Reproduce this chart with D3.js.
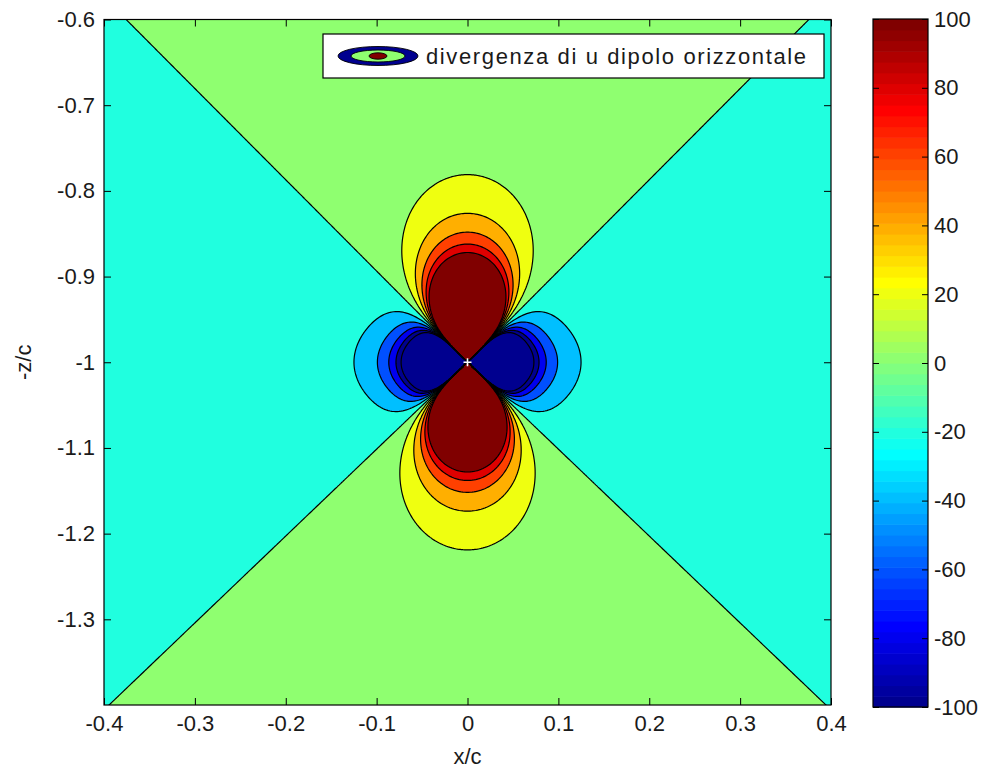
<!DOCTYPE html>
<html><head><meta charset="utf-8">
<script src="https://cdn.jsdelivr.net/npm/d3@7"></script>
<style>
body{margin:0;background:#fff;}
svg text{font-family:"Liberation Sans",Arial,sans-serif;fill:#1a1a1a;}
</style></head><body>
<svg id="chart" width="984" height="776"></svg>
<script>
// ---------- data ----------
const xTicks = [-0.4, -0.3, -0.2, -0.1, 0, 0.1, 0.2, 0.3, 0.4];
const yTicks = [-0.6, -0.7, -0.8, -0.9, -1, -1.1, -1.2, -1.3];
const contourLevels = [-100, -80, -60, -40, -20, 0, 20, 40, 60, 80, 100];
const colorbarTicks = [-100, -80, -60, -40, -20, 0, 20, 40, 60, 80, 100];
const colorRange = [-100, 100];
const xDomain = [-0.4, 0.4];
const zDomain = [-1.4, -0.6];
const dipoleCenter = [0, -1];
// f·r^3: along the vertical axis, along the horizontal axis
const lobeStrength = [0.21, -0.039];
// angle of the zero contour from the horizontal (deg): upper half, lower half
const zeroLineAngle = [46.8, 45.4];
const legendLabel = "divergenza di u dipolo orizzontale";
const xLabel = "x/c";
const yLabel = "-z/c";

// ---------- layout ----------
const svg = d3.select("#chart");
const L = 104, R = 831, T = 19.5, B = 705;
const xScale = d3.scaleLinear().domain(xDomain).range([L, R]);
const yScale = d3.scaleLinear().domain(zDomain).range([B, T]);

// MATLAB jet(64)
function jetRow(i) { // 1-based
  let r, g, b;
  r = i <= 24 ? 0 : i <= 40 ? (i - 24) / 16 : i <= 56 ? 1 : 1 - (i - 56) / 16;
  g = i <= 8 ? 0 : i <= 24 ? (i - 8) / 16 : i <= 40 ? 1 : i <= 55 ? 1 - (i - 40) / 16 : 0;
  b = i <= 8 ? 0.5 + i / 16 : i <= 24 ? 1 : i <= 39 ? 1 - (i - 24) / 16 : 0;
  return d3.rgb(r * 255, g * 255, b * 255).formatHex();
}
function levelColor(v) {
  const idx = Math.max(1, Math.min(64, Math.floor((v - colorRange[0]) / (colorRange[1] - colorRange[0]) * 64) + 1));
  return jetRow(idx);
}

// ---------- field ----------
function field(x, z) {
  const dx = x - dipoleCenter[0], dz = z - dipoleCenter[1];
  const r = Math.hypot(dx, dz);
  const phi = Math.atan2(Math.abs(dz), Math.abs(dx)) * 180 / Math.PI;
  const p0 = dz >= 0 ? zeroLineAngle[0] : zeroLineAngle[1];
  const pw = phi < p0 ? phi * 45 / p0 : 45 + (phi - p0) * 45 / (90 - p0);
  const u = Math.pow(Math.sin(pw * Math.PI / 180), 2);
  const p = -lobeStrength[1], q = lobeStrength[0] - p;
  const g = (2 * u - 1) * (p + q * u * u);
  const f = g / (r * r * r + 1e-12);
  return Math.max(-1e5, Math.min(1e5, f));
}
const nx = 400, nz = 380;
const sx = (xDomain[1] - xDomain[0]) / (nx - 1), sz = (zDomain[1] - zDomain[0]) / (nz - 1);
const values = new Float64Array(nx * nz);
for (let j = 0; j < nz; j++) {
  const z = zDomain[1] - j * sz;
  for (let i = 0; i < nx; i++) values[j * nx + i] = field(xDomain[0] + i * sx, z);
}
const contours = d3.contours().size([nx, nz]).thresholds(contourLevels)(values);
const proj = d3.geoTransform({
  point(px, py) { this.stream.point(xScale(xDomain[0] + (px - 0.5) * sx), yScale(zDomain[1] - (py - 0.5) * sz)); }
});
const path = d3.geoPath(proj);

svg.append("clipPath").attr("id", "plotClip")
  .append("rect").attr("x", L).attr("y", T).attr("width", R - L).attr("height", B - T);
const plot = svg.append("g").attr("clip-path", "url(#plotClip)");
plot.append("rect").attr("x", L).attr("y", T).attr("width", R - L).attr("height", B - T)
  .attr("fill", levelColor(contourLevels[0]));
plot.selectAll("path.fill").data(contours).join("path").attr("class", "fill")
  .attr("d", path).attr("fill", d => levelColor(d.value)).attr("stroke", "none");
plot.selectAll("path.line").data(contours).join("path").attr("class", "line")
  .attr("d", path).attr("fill", "none").attr("stroke", "#000").attr("stroke-width", 1.2);

// center marker
const cx = xScale(dipoleCenter[0]), cy = yScale(dipoleCenter[1]);
plot.append("path").attr("d", `M${cx - 4},${cy}H${cx + 4}M${cx},${cy - 4}V${cy + 4}`)
  .attr("stroke", "#fff").attr("stroke-width", 1.6);

// ---------- axes ----------
const fmt = d => String(d);
const fs = "22px";
const gx = svg.append("g").attr("transform", `translate(0,${B})`)
  .call(d3.axisBottom(xScale).tickValues(xTicks).tickSize(-7).tickPadding(10).tickFormat(fmt));
const gxt = svg.append("g").attr("transform", `translate(0,${T})`)
  .call(d3.axisTop(xScale).tickValues(xTicks).tickSize(-7).tickFormat(""));
const gy = svg.append("g").attr("transform", `translate(${L},0)`)
  .call(d3.axisLeft(yScale).tickValues(yTicks).tickSize(-7).tickPadding(9).tickFormat(fmt));
const gyr = svg.append("g").attr("transform", `translate(${R},0)`)
  .call(d3.axisRight(yScale).tickValues(yTicks).tickSize(-7).tickFormat(""));
[gx, gxt, gy, gyr].forEach(g => {
  g.select(".domain").remove();
  g.selectAll(".tick line").attr("stroke", "#000");
  g.selectAll(".tick text").attr("font-size", fs).attr("font-family", null);
});
svg.append("rect").attr("x", L).attr("y", T).attr("width", R - L).attr("height", B - T)
  .attr("fill", "none").attr("stroke", "#000").attr("stroke-width", 1.2);

svg.append("text").attr("x", (L + R) / 2).attr("y", 764).attr("text-anchor", "middle")
  .attr("font-size", fs).text(xLabel);
svg.append("text").attr("transform", `translate(31,${(T + B) / 2}) rotate(-90)`)
  .attr("text-anchor", "middle").attr("font-size", fs).text(yLabel);

// ---------- colorbar ----------
const CL = 873, CR = 928, CT = 19, CB = 707;
const cScale = d3.scaleLinear().domain(colorRange).range([CB, CT]);
const stripes = d3.range(64).map(k => colorRange[0] + k * (colorRange[1] - colorRange[0]) / 64);
const step = (colorRange[1] - colorRange[0]) / 64;
svg.append("g").selectAll("rect").data(stripes).join("rect")
  .attr("x", CL).attr("width", CR - CL)
  .attr("y", d => cScale(d + step)).attr("height", d => cScale(d) - cScale(d + step) + 0.6)
  .attr("fill", (d, k) => jetRow(k + 1));
const cbR = svg.append("g").attr("transform", `translate(${CR},0)`)
  .call(d3.axisRight(cScale).tickValues(colorbarTicks).tickSize(-6).tickPadding(6).tickFormat(fmt));
const cbL = svg.append("g").attr("transform", `translate(${CL},0)`)
  .call(d3.axisLeft(cScale).tickValues(colorbarTicks).tickSize(-6).tickFormat(""));
[cbR, cbL].forEach(g => {
  g.select(".domain").remove();
  g.selectAll(".tick line").attr("stroke", "#000");
  g.selectAll(".tick text").attr("font-size", fs).attr("font-family", null);
});
svg.append("rect").attr("x", CL).attr("y", CT).attr("width", CR - CL).attr("height", CB - CT)
  .attr("fill", "none").attr("stroke", "#000").attr("stroke-width", 1.2);

// ---------- legend ----------
const lg = svg.append("g");
lg.append("rect").attr("x", 323).attr("y", 34).attr("width", 501).attr("height", 44)
  .attr("fill", "#fff").attr("stroke", "#000").attr("stroke-width", 1.2);
const icon = [
  {rx: 40, ry: 9.5, v: contourLevels[0]},
  {rx: 27, ry: 6, v: contourLevels[5]},
  {rx: 9, ry: 3.2, v: contourLevels[10]}
];
lg.selectAll("ellipse").data(icon).join("ellipse")
  .attr("cx", 378).attr("cy", 56).attr("rx", d => d.rx).attr("ry", d => d.ry)
  .attr("fill", d => levelColor(d.v)).attr("stroke", "#000").attr("stroke-width", 0.9);
lg.append("text").attr("x", 426).attr("y", 64).attr("font-size", fs)
  .attr("textLength", 380).attr("lengthAdjust", "spacing").text(legendLabel);
</script>
</body></html>
